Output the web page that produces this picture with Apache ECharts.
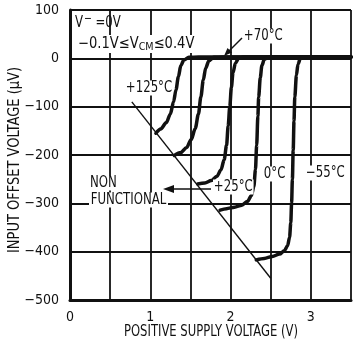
<!DOCTYPE html>
<html>
<head>
<meta charset="utf-8">
<script src="https://cdn.jsdelivr.net/npm/echarts@6/dist/echarts.min.js"></script>
<style>
html,body{margin:0;padding:0;background:#fff;overflow:hidden;}
#c{width:354px;height:344px;}
</style>
</head>
<body>
<div id="c"></div>
<script>
// ---- data ----
const xTickLabels = ['0', '1', '2', '3'];
const yTickValues = [-500, -400, -300, -200, -100, 0, 100];
const curve125 = [[1.07,-155],[1.13,-146],[1.20,-133],[1.25,-115],[1.29,-90],[1.32,-65],[1.35,-38],[1.38,-15],[1.42,-3],[1.48,2],[1.6,3],[3.5,3]];
const curve70 = [[1.30,-201],[1.38,-195],[1.45,-185],[1.51,-168],[1.56,-145],[1.60,-115],[1.63,-80],[1.66,-45],[1.69,-20],[1.73,-5],[1.79,2],[1.9,3],[3.5,3]];
const curve25 = [[1.59,-260],[1.68,-258],[1.76,-253],[1.83,-244],[1.88,-231],[1.92,-210],[1.95,-180],[1.97,-140],[1.99,-100],[2.01,-60],[2.03,-30],[2.06,-10],[2.10,0],[2.16,3],[3.5,3]];
const curve0 = [[1.87,-314],[1.95,-311],[2.05,-308],[2.14,-304],[2.21,-296],[2.26,-284],[2.29,-265],[2.31,-230],[2.325,-180],[2.34,-120],[2.35,-80],[2.37,-40],[2.39,-15],[2.42,-2],[2.47,3],[3.5,3]];
const curveM55 = [[2.32,-417],[2.42,-414],[2.52,-410],[2.61,-405],[2.67,-398],[2.71,-388],[2.735,-370],[2.75,-340],[2.76,-300],[2.77,-250],[2.78,-190],[2.79,-130],[2.80,-80],[2.82,-35],[2.84,-12],[2.87,0],[2.92,3],[3.5,3]];
const boundary = [[0.77,-90],[2.5,-455]];

const FONT = '"Liberation Sans Narrow", "DejaVu Sans Condensed", "Liberation Sans", sans-serif';
const INK = '#111';
const S = 0.87; // horizontal condensing of annotation text

function minus(v){ return v < 0 ? '\u2212' + Math.abs(v) : String(v); }

const mctx = document.createElement('canvas').getContext('2d');
function fitScale(text, font, target){ mctx.font = font; return target / mctx.measureText(text).width; }

const chart = echarts.init(document.getElementById('c'), null, {renderer:'canvas'});

function curveSeries(d){
  return {type:'line', data:d, symbol:'none', smooth:0.3, smoothMonotone:'x',
    lineStyle:{color:INK, width:3.5, cap:'round', join:'round'}, z:5, silent:true};
}

function txt(text, x, y, opts, el){
  return Object.assign({type:'text', z:20, x:x, y:y, scaleX:S, style:Object.assign({text:text, x:0, y:0,
    font:'15px ' + FONT, fill:INK, align:'left', verticalAlign:'middle'}, opts||{})}, el||{});
}

const titleFont = '15px ' + FONT;
const xTitle = 'POSITIVE SUPPLY VOLTAGE (V)';
const yTitle = 'INPUT OFFSET VOLTAGE (\u00B5V)';

chart.setOption({
  animation:false,
  backgroundColor:'#fff',
  grid:{left:70, top:10, width:287, height:290, containLabel:false},
  xAxis:{type:'value', min:0, max:3.5, interval:0.5,
    axisLine:{show:true, onZero:false, lineStyle:{color:INK, width:3}},
    axisTick:{show:false},
    splitLine:{show:true, lineStyle:{color:INK, width:1.8}},
    axisLabel:{color:INK, fontFamily:FONT, fontSize:14, margin:10,
      formatter:function(v){ const i = Math.round(v); return (Math.abs(v-i)<1e-6 && xTickLabels.indexOf(String(i))>=0) ? String(i) : ''; }}
  },
  yAxis:{type:'value', min:yTickValues[0], max:yTickValues[yTickValues.length-1], interval:100,
    axisLine:{show:true, onZero:false, lineStyle:{color:INK, width:3}},
    axisTick:{show:false},
    splitLine:{show:true, lineStyle:{color:INK, width:1.8}},
    axisLabel:{color:INK, fontFamily:FONT, fontSize:14, margin:11, formatter:minus}
  },
  series:[
    curveSeries(curve125), curveSeries(curve70), curveSeries(curve25), curveSeries(curve0), curveSeries(curveM55),
    {type:'line', data:boundary, symbol:'none', lineStyle:{color:INK, width:1.4}, z:4, silent:true}
  ],
  graphic:[
    // axis titles
    txt(yTitle, 15, 160, {align:'center', font:titleFont}, {rotation:Math.PI/2, scaleX:fitScale(yTitle, titleFont, 186)}),
    txt(xTitle, 211, 332, {align:'center', font:titleFont}, {scaleX:fitScale(xTitle, titleFont, 174)}),
    // conditions
    {type:'text', z:20, x:75, y:23, scaleX:S, style:{x:0, y:0, verticalAlign:'middle', fill:INK,
      text:'{a|V}{s|\u2212}{a| =0V}',
      rich:{a:{font:'15px ' + FONT, fill:INK}, s:{font:'12px ' + FONT, fill:INK, padding:[0,0,8,1]}}}},
    {type:'text', z:20, x:78, y:44, scaleX:0.97, style:{x:0, y:0, verticalAlign:'middle', fill:INK, backgroundColor:'#fff',
      text:'{a|\u22120.1V\u2264V}{b|CM}{a|\u22640.4V}',
      rich:{a:{font:'15px ' + FONT, fill:INK}, b:{font:'11px ' + FONT, fill:INK, padding:[7,0,0,0]}}}},
    // temperature labels
    txt('+70\u00B0C', 243, 36, {backgroundColor:'#fff', padding:[0,1]}),
    txt('+125\u00B0C', 125, 88, {backgroundColor:'#fff', padding:[0,1]}),
    txt('+25\u00B0C', 213, 187, {backgroundColor:'#fff', padding:[0,1]}),
    txt('0\u00B0C', 263, 174, {backgroundColor:'#fff', padding:[0,1]}),
    txt('\u221255\u00B0C', 305, 173, {backgroundColor:'#fff', padding:[0,1]}),
    txt('NON', 90, 183, {backgroundColor:'#fff'}),
    txt('FUNCTIONAL', 89, 200, {backgroundColor:'#fff', padding:[0,2]}),
    // arrows
    {type:'line', z:19, shape:{x1:242, y1:38, x2:229, y2:51}, style:{stroke:INK, lineWidth:1.5}},
    {type:'polygon', z:19, shape:{points:[[224,56],[232,52.5],[227.5,48]]}, style:{fill:INK}},
    {type:'line', z:19, shape:{x1:172, y1:189, x2:211, y2:189}, style:{stroke:INK, lineWidth:1.5}},
    {type:'polygon', z:19, shape:{points:[[163,189],[174,185],[174,193]]}, style:{fill:INK}}
  ]
});
</script>
</body>
</html>
